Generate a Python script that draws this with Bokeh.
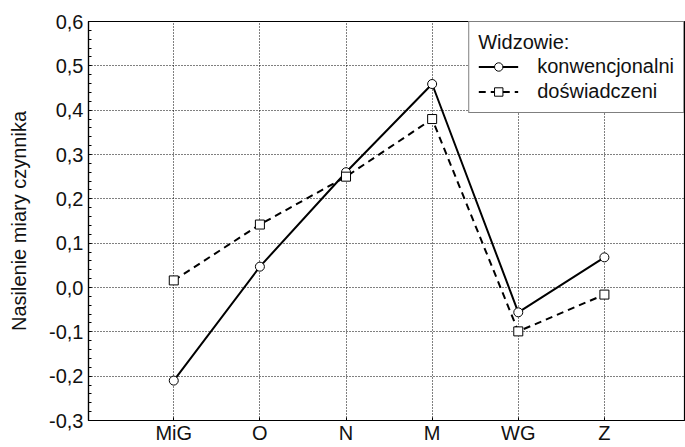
from bokeh.plotting import figure
from bokeh.models import Range1d, FixedTicker, Legend, LegendItem
from bokeh.embed import file_html
from bokeh.resources import INLINE

categories = ["MiG", "O", "N", "M", "WG", "Z"]
konwencjonalni = [-0.21, 0.047, 0.26, 0.459, -0.056, 0.068]
doswiadczeni = [0.016, 0.142, 0.25, 0.38, -0.099, -0.016]
y_ticks = [-0.3, -0.2, -0.1, 0.0, 0.1, 0.2, 0.3, 0.4, 0.5, 0.6]

xs = list(range(len(categories)))
FONT = "Liberation Sans"

p = figure(width=685, height=447, output_backend="svg", toolbar_location=None,
           x_range=Range1d(-0.99, 5.93), y_range=Range1d(-0.3, 0.6),
           min_border_left=88, min_border_right=1, min_border_top=21, min_border_bottom=27)
p.background_fill_color = "white"
p.border_fill_color = "white"
p.outline_line_color = "black"
p.outline_line_width = 1.2

p.xaxis.ticker = FixedTicker(ticks=xs)
p.xaxis.major_label_overrides = {i: c for i, c in enumerate(categories)}
p.yaxis.ticker = FixedTicker(ticks=y_ticks,
                             minor_ticks=[round(-0.3 + 0.02 * i, 2) for i in range(46)])
p.yaxis.major_label_overrides = {t: f"{t:.1f}".replace(".", ",") for t in y_ticks}

for ax in (p.xaxis[0], p.yaxis[0]):
    ax.axis_line_color = "black"
    ax.axis_line_width = 1.2
    ax.major_tick_in = 3
    ax.major_tick_out = 0
    ax.major_tick_line_color = "black"
    ax.major_label_text_font = FONT
    ax.major_label_text_font_size = "20px"
    ax.major_label_text_color = "#111111"
p.xaxis.minor_tick_line_color = None
p.yaxis.minor_tick_in = 3
p.yaxis.minor_tick_out = 0
p.yaxis.minor_tick_line_color = "black"
p.yaxis.major_label_standoff = 5
p.xaxis.major_label_standoff = 1

p.yaxis.axis_label = "Nasilenie miary czynnika"
p.yaxis.axis_label_text_font = FONT
p.yaxis.axis_label_text_font_size = "20px"
p.yaxis.axis_label_text_font_style = "normal"
p.yaxis.axis_label_text_color = "#111111"
p.yaxis.axis_label_standoff = 16

for g in (p.xgrid[0], p.ygrid[0]):
    g.grid_line_color = "black"
    g.grid_line_dash = "1 2"
    g.grid_line_width = 1
    g.grid_line_alpha = 1

l1 = p.line(xs, konwencjonalni, line_color="black", line_width=2)
s1 = p.scatter(xs, konwencjonalni, marker="circle", size=9, fill_color="white",
               line_color="black", line_width=1)
l2 = p.line(xs, doswiadczeni, line_color="black", line_width=2, line_dash="7 5")
s2 = p.scatter(xs, doswiadczeni, marker="square", size=9, fill_color="white",
               line_color="black", line_width=1)

legend = Legend(items=[LegendItem(label="konwencjonalni", renderers=[l1, s1]),
                       LegendItem(label="doświadczeni", renderers=[l2, s2])],
                location="top_right", title="Widzowie:")
legend.title_text_font = FONT
legend.title_text_font_size = "20px"
legend.title_text_font_style = "normal"
legend.title_text_color = "#111111"
legend.label_text_font = FONT
legend.label_text_font_size = "20px"
legend.label_text_color = "#111111"
legend.border_line_color = "black"
legend.border_line_width = 1.2
legend.background_fill_alpha = 1
legend.margin = 0
legend.padding = 9
legend.spacing = 2
legend.glyph_width = 40
legend.glyph_height = 21
legend.label_height = 21
legend.label_standoff = 19
legend.title_standoff = 1
p.add_layout(legend)

open("out.html", "w").write(file_html(p, INLINE))
